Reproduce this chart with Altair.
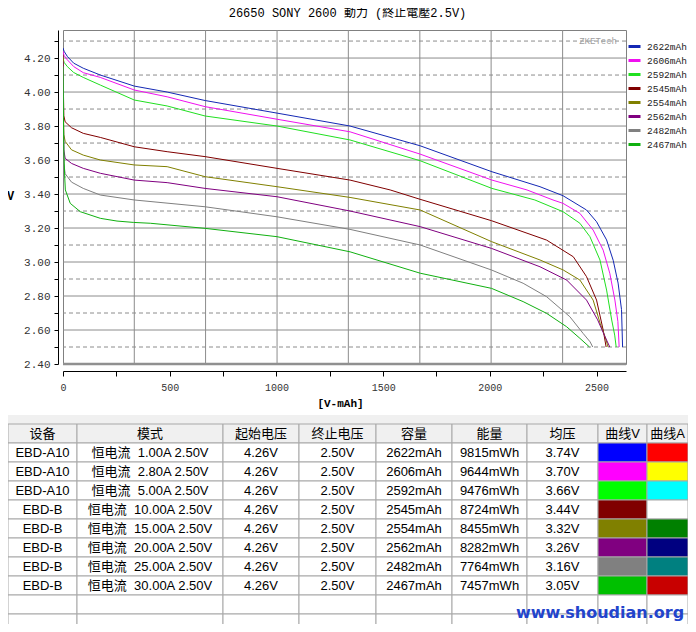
import altair as alt
import pandas as pd

# ---------------- data ----------------
TITLE = "26650 SONY 2600 動力 (終止電壓2.5V)"
WATERMARK_TOP = "ZKETech"
WATERMARK_BOTTOM = "www.shoudian.org"

SERIES = ["2622mAh", "2606mAh", "2592mAh", "2545mAh", "2554mAh", "2562mAh", "2482mAh", "2467mAh"]

CAP_2622 = [0, 5, 20, 50, 95, 175, 334, 488, 666, 1003, 1345, 1673, 2010, 2235, 2343, 2453, 2500, 2547, 2578, 2601, 2617, 2622]
V_2622 = [4.26, 4.24, 4.21, 4.17, 4.14, 4.10, 4.035, 4.00, 3.95, 3.876, 3.80, 3.684, 3.531, 3.443, 3.39, 3.306, 3.237, 3.13, 3.01, 2.876, 2.72, 2.50]

CAP_2606 = [0, 5, 20, 50, 95, 175, 334, 488, 666, 1003, 1345, 1673, 2010, 2174, 2296, 2343, 2422, 2484, 2531, 2562, 2586, 2600, 2606]
V_2606 = [4.24, 4.215, 4.19, 4.15, 4.114, 4.086, 4.012, 3.972, 3.914, 3.84, 3.766, 3.635, 3.482, 3.424, 3.365, 3.345, 3.286, 3.188, 3.07, 2.934, 2.776, 2.65, 2.50]

CAP_2592 = [0, 5, 20, 50, 95, 175, 334, 488, 666, 1003, 1345, 1673, 2010, 2211, 2343, 2422, 2469, 2516, 2547, 2571, 2585, 2592]
V_2592 = [4.20, 4.175, 4.15, 4.115, 4.086, 4.041, 3.953, 3.918, 3.859, 3.80, 3.718, 3.596, 3.433, 3.365, 3.296, 3.228, 3.149, 3.012, 2.835, 2.659, 2.57, 2.50]

CAP_2545 = [0, 2, 4, 10, 40, 95, 175, 334, 488, 666, 1003, 1345, 1533, 1673, 2008, 2266, 2391, 2453, 2500, 2531, 2545]
V_2545 = [4.22, 4.00, 3.86, 3.825, 3.79, 3.757, 3.733, 3.678, 3.649, 3.62, 3.551, 3.482, 3.424, 3.369, 3.243, 3.129, 3.031, 2.914, 2.776, 2.60, 2.50]

CAP_2554 = [0, 2, 4, 10, 40, 95, 175, 334, 488, 666, 1003, 1345, 1674, 2008, 2235, 2344, 2422, 2484, 2517, 2540, 2554]
V_2554 = [4.20, 3.90, 3.75, 3.71, 3.66, 3.629, 3.60, 3.571, 3.561, 3.502, 3.443, 3.38, 3.306, 3.12, 3.012, 2.953, 2.894, 2.776, 2.639, 2.56, 2.50]

CAP_2562 = [0, 2, 4, 10, 40, 95, 175, 334, 488, 666, 1003, 1345, 1674, 2008, 2235, 2360, 2453, 2505, 2540, 2562]
V_2562 = [4.18, 3.85, 3.66, 3.61, 3.58, 3.551, 3.522, 3.482, 3.467, 3.433, 3.384, 3.30, 3.208, 3.08, 2.972, 2.894, 2.776, 2.66, 2.56, 2.50]

CAP_2482 = [0, 2, 4, 10, 40, 95, 175, 334, 666, 1003, 1345, 1674, 2008, 2156, 2266, 2375, 2437, 2470, 2482]
V_2482 = [4.15, 3.80, 3.58, 3.52, 3.47, 3.433, 3.394, 3.365, 3.325, 3.266, 3.192, 3.10, 2.953, 2.875, 2.796, 2.678, 2.58, 2.53, 2.50]

CAP_2467 = [0, 2, 4, 8, 11, 34, 81, 175, 253, 330, 409, 666, 1003, 1345, 1674, 2008, 2156, 2266, 2360, 2422, 2467]
V_2467 = [4.15, 3.85, 3.65, 3.50, 3.424, 3.345, 3.296, 3.257, 3.241, 3.233, 3.228, 3.198, 3.149, 3.06, 2.934, 2.845, 2.767, 2.698, 2.619, 2.551, 2.50]

CAPS = [CAP_2622, CAP_2606, CAP_2592, CAP_2545, CAP_2554, CAP_2562, CAP_2482, CAP_2467]
VOLTS = [V_2622, V_2606, V_2592, V_2545, V_2554, V_2562, V_2482, V_2467]

X_TICKS = [0, 250, 500, 750, 1000, 1250, 1500, 1750, 2000, 2250, 2500]
Y_TICKS = [2.4, 2.5, 2.6, 2.7, 2.8, 2.9, 3.0, 3.1, 3.2, 3.3, 3.4, 3.5, 3.6, 3.7, 3.8, 3.9, 4.0, 4.1, 4.2, 4.3]
H_SOLID = [2.4, 2.6, 2.8, 3.0, 3.2, 3.4, 3.6, 3.8, 4.0, 4.2]
H_DASH = [2.5, 2.7, 2.9, 3.1, 3.3, 3.5, 3.7, 3.9, 4.1, 4.3]
V_GRID = [334, 668, 1003, 1337, 1672, 2006, 2341]

HEADERS = ["设备", "模式", "起始电压", "终止电压", "容量", "能量", "均压", "曲线V", "曲线A"]
DEVICE = ["EBD-A10", "EBD-A10", "EBD-A10", "EBD-B", "EBD-B", "EBD-B", "EBD-B", "EBD-B"]
MODE = ["恒电流  1.00A 2.50V", "恒电流  2.80A 2.50V", "恒电流  5.00A 2.50V", "恒电流  10.00A 2.50V",
        "恒电流  15.00A 2.50V", "恒电流  20.00A 2.50V", "恒电流  25.00A 2.50V", "恒电流  30.00A 2.50V"]
START_V = ["4.26V"] * 8
END_V = ["2.50V"] * 8
CAPACITY = ["2622mAh", "2606mAh", "2592mAh", "2545mAh", "2554mAh", "2562mAh", "2482mAh", "2467mAh"]
ENERGY = ["9815mWh", "9644mWh", "9476mWh", "8724mWh", "8455mWh", "8282mWh", "7764mWh", "7457mWh"]
AVG_V = ["3.74V", "3.70V", "3.66V", "3.44V", "3.32V", "3.26V", "3.16V", "3.05V"]
SWATCH_V = ["#0000FF", "#FF00FF", "#00FF00", "#800000", "#808000", "#800080", "#808080", "#00C000"]
SWATCH_A = ["#FF0000", "#FFFF00", "#00FFFF", "#FFFFFF", "#008000", "#000080", "#008080", "#C80000"]

# ---------------- styles / layout ----------------
LINE_COLORS = ["#1428B4", "#F010F0", "#20E020", "#800000", "#808000", "#800080", "#808080", "#10B010"]
MONO = "Liberation Mono, Noto Sans CJK TC"
SANS = "Liberation Sans, Noto Sans CJK SC"
GRID = "#8c8c8c"

W, H = 563, 334                 # plot area
PLOT_LEFT, PLOT_TOP = 63, 30    # plot origin on the page
SVG_W, SVG_H = 680, 616
PAD_L, PAD_T = PLOT_LEFT - 8, PLOT_TOP - 8
X_MAX = 2638
Y_MIN, Y_MAX = 2.4, 4.365

TABLE_X0 = 8
COL_W = [69, 146, 76, 77, 76, 75, 71, 49, 41]
BAND_TOP = 415
ROW0 = 424
ROW_H = 19
N_ROWS = 11
WM_X, WM_Y = 600, 613

# ---------------- chart: curves ----------------
rows = []
for name, caps, vs in zip(SERIES, CAPS, VOLTS):
    for i, (c, v) in enumerate(zip(caps, vs)):
        rows.append({"series": name, "cap": c, "v": v, "idx": i})
lines_df = pd.DataFrame(rows)

xscale = alt.Scale(domain=[0, X_MAX], nice=False, zero=False)
yscale = alt.Scale(domain=[Y_MIN, Y_MAX], nice=False, zero=False)

x_axis = alt.Axis(values=X_TICKS, labelExpr="datum.value % 500 === 0 ? datum.label : ''",
                  format="d", grid=False, offset=7, tickSize=5, labelPadding=6,
                  labelFont=MONO, labelFontSize=10, labelColor="#333", labelFlush=False,
                  domainColor="#000", tickColor="#000",
                  titleFont=MONO, titleFontSize=11, titleFontWeight="bold", titleColor="#000",
                  titleX=277, titleY=32, titleAlign="center", titleBaseline="middle")
y_axis = alt.Axis(values=Y_TICKS,
                  labelExpr="round(datum.value*10) % 2 === 0 ? format(datum.value, '.2f') : ''",
                  grid=False, offset=5, tickSize=4, labelPadding=4,
                  labelFont=MONO, labelFontSize=11, labelColor="#333", labelFlush=False,
                  domainColor="#000", tickColor="#000",
                  titleFont=MONO, titleFontSize=12, titleFontWeight="bold", titleColor="#000",
                  titleAngle=0, titleX=-48, titleY=165, titleAlign="center", titleBaseline="middle")


def xe(field):
    return alt.X(field, scale=xscale, axis=x_axis, title="[V-mAh]")


def ye(field):
    return alt.Y(field, scale=yscale, axis=y_axis, title="V")


h_solid = alt.Chart(pd.DataFrame({"v": H_SOLID})).mark_rule(color=GRID, strokeWidth=1).encode(y=ye("v:Q"))
h_dash = alt.Chart(pd.DataFrame({"v": H_DASH})).mark_rule(color=GRID, strokeWidth=1, strokeDash=[4, 3]).encode(y=ye("v:Q"))
v_grid = alt.Chart(pd.DataFrame({"cap": V_GRID})).mark_rule(color=GRID, strokeWidth=1).encode(x=xe("cap:Q"))
bottom = alt.Chart(pd.DataFrame({"v": [Y_MIN]})).mark_rule(color="#909090", strokeWidth=2.5).encode(y=ye("v:Q"))

lines = alt.Chart(lines_df).mark_line(strokeWidth=1, clip=True).encode(
    x=xe("cap:Q"),
    y=ye("v:Q"),
    order="idx:Q",
    color=alt.Color("series:N", sort=SERIES,
                    scale=alt.Scale(domain=SERIES, range=LINE_COLORS),
                    legend=alt.Legend(orient="none", legendX=564, legendY=9, title=None,
                                      symbolType="stroke", symbolStrokeWidth=3, symbolSize=144,
                                      labelFont=MONO, labelFontSize=9.5, labelOffset=5,
                                      labelColor="#222", rowPadding=0, padding=0)),
)

zke = alt.Chart(pd.DataFrame({"t": [WATERMARK_TOP]})).mark_text(
    align="right", baseline="middle", font=MONO, fontSize=9, color="#a0a0a0"
).encode(text="t:N", x=alt.value(554), y=alt.value(11))

title = alt.Chart(pd.DataFrame({"t": [TITLE]})).mark_text(
    align="center", baseline="middle", font=MONO, fontSize=12, color="#000"
).encode(text="t:N", x=alt.value(284.5), y=alt.value(-17))

top = alt.layer(h_solid, h_dash, v_grid, bottom, lines, zke, title)

# ---------------- table ----------------
edges = [TABLE_X0]
for w in COL_W:
    edges.append(edges[-1] + w)

body_cols = [DEVICE, MODE, START_V, END_V, CAPACITY, ENERGY, AVG_V]
cells, texts = [], []
for r in range(N_ROWS):
    y0 = ROW0 + r * ROW_H
    for c in range(len(COL_W)):
        if r == 0:
            fill = "#f0f0f0"
        elif 1 <= r <= 8 and c == 7:
            fill = SWATCH_V[r - 1]
        elif 1 <= r <= 8 and c == 8:
            fill = SWATCH_A[r - 1]
        else:
            fill = "#ffffff"
        cells.append({"x0": edges[c], "x1": edges[c + 1], "y0": y0, "y1": y0 + ROW_H, "fill": fill})
        label = None
        if r == 0:
            label = HEADERS[c]
        elif 1 <= r <= 8 and c < 7:
            label = body_cols[c][r - 1].replace("  ", "\u00a0\u00a0")
        if label is not None:
            texts.append({"tx": (edges[c] + edges[c + 1]) / 2, "ty": y0 + ROW_H / 2 + 0.5, "label": label})

cells_df = pd.DataFrame(cells)
texts_df = pd.DataFrame(texts)

tx = alt.Scale(domain=[PLOT_LEFT, PLOT_LEFT + W], nice=False, zero=False)
ty = alt.Scale(domain=[PLOT_TOP, PLOT_TOP + H], nice=False, zero=False, reverse=True)

band = alt.Chart(pd.DataFrame({"x0": [edges[0]], "x1": [edges[-1]], "y0": [BAND_TOP], "y1": [ROW0]})).mark_rect(
    color="#f0f0f0"
).encode(x=alt.X("x0:Q", scale=tx, axis=None), x2="x1:Q",
         y=alt.Y("y0:Q", scale=ty, axis=None), y2="y1:Q")

cell_rects = alt.Chart(cells_df).mark_rect(stroke="#a8a8a8", strokeWidth=1).encode(
    x=alt.X("x0:Q", scale=tx, axis=None), x2="x1:Q",
    y=alt.Y("y0:Q", scale=ty, axis=None), y2="y1:Q",
    fill=alt.Fill("fill:N", scale=None),
)

cell_text = alt.Chart(texts_df).mark_text(
    font=SANS, fontSize=13, align="center", baseline="middle", color="#000"
).encode(
    x=alt.X("tx:Q", scale=tx, axis=None),
    y=alt.Y("ty:Q", scale=ty, axis=None),
    text="label:N",
)

wm = alt.Chart(pd.DataFrame({"tx": [WM_X], "ty": [WM_Y], "t": [WATERMARK_BOTTOM]})).mark_text(
    font="DejaVu Sans", fontWeight="bold", fontSize=16, color="#2244cc", align="center", baseline="middle"
).encode(x=alt.X("tx:Q", scale=tx, axis=None), y=alt.Y("ty:Q", scale=ty, axis=None), text="t:N")

table = alt.layer(band, cell_rects, cell_text, wm)

chart = alt.layer(top, table).resolve_scale(x="independent", y="independent").properties(
    width=W, height=H,
    autosize=alt.AutoSizeParams(type="none"),
    padding={"left": PAD_L, "top": PAD_T, "right": SVG_W - PAD_L - W, "bottom": SVG_H - PAD_T - H},
    background="white",
).configure_view(stroke="#808080", strokeWidth=1)

chart.save("out.html", embed_options={"renderer": "svg", "actions": False})
